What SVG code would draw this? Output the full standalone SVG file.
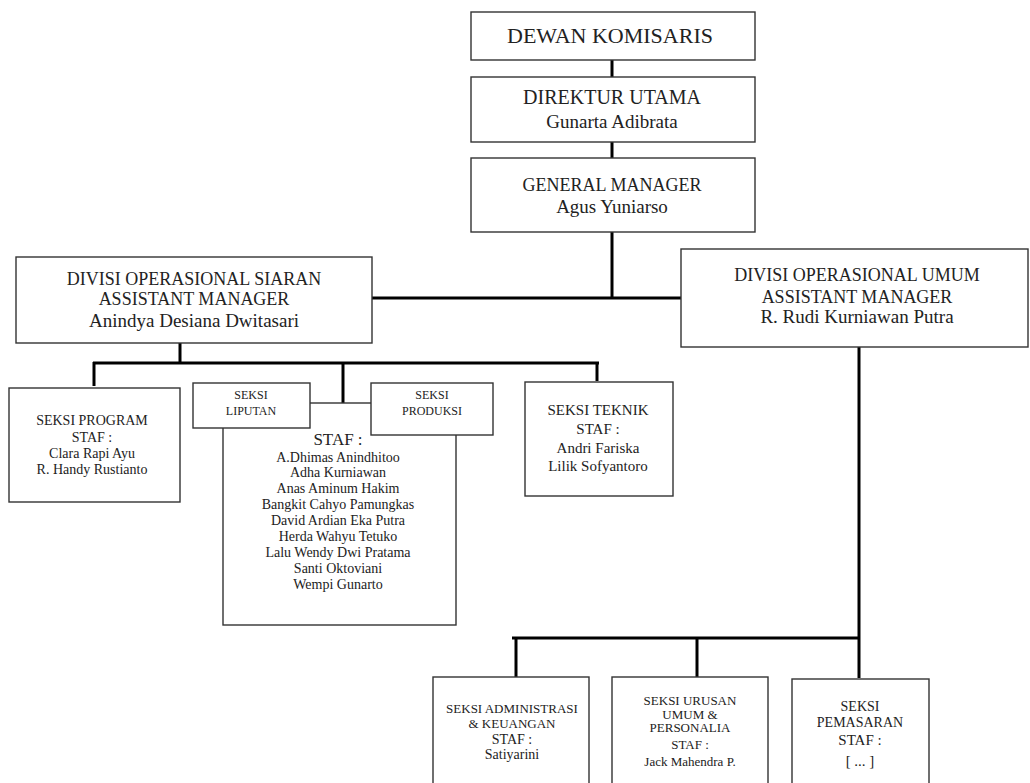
<svg xmlns="http://www.w3.org/2000/svg" width="1030" height="783" viewBox="0 0 1030 783">
<style>
.box{fill:#fff;stroke:#333;stroke-width:1.4}
.con{stroke:#000;stroke-width:3;fill:none}
text{font-family:"Liberation Serif","Times New Roman",serif;fill:#222;text-anchor:middle}
.t21{font-size:22px}
.t20{font-size:20px}
.t19{font-size:19px}
.t18{font-size:18px}
.t15{font-size:15px}
.t14{font-size:14px}
.t13{font-size:13px}
.t12{font-size:12px}
</style>
<rect width="1030" height="783" fill="#fff"/>
<g id="connectors">
<line class="con" x1="612" y1="60" x2="612" y2="77"/>
<line class="con" x1="612" y1="142" x2="612" y2="158"/>
<line class="con" x1="612" y1="232" x2="612" y2="298"/>
<line class="con" x1="372" y1="298" x2="681" y2="298"/>
<line class="con" x1="180" y1="343" x2="180" y2="363"/>
<line class="con" x1="93" y1="363" x2="599" y2="363"/>
<line class="con" x1="94" y1="362" x2="94" y2="386"/>
<line class="con" x1="343" y1="363" x2="343" y2="403"/>
<line class="con" x1="597" y1="362" x2="597" y2="381"/>
<line class="con" x1="859" y1="347" x2="859" y2="678"/>
<line class="con" x1="512" y1="638" x2="859" y2="638"/>
<line class="con" x1="516" y1="638" x2="516" y2="677"/>
<line class="con" x1="697" y1="638" x2="697" y2="677"/>
</g>
<g id="dewan-komisaris">
<rect class="box" x="471" y="12" width="284" height="48"/>
<text class="t21" x="610" y="43">DEWAN KOMISARIS</text>
</g>
<g id="direktur-utama">
<rect class="box" x="471" y="77" width="284" height="65"/>
<text class="t20" x="612" y="104">DIREKTUR UTAMA</text>
<text class="t19" x="612" y="128">Gunarta Adibrata</text>
</g>
<g id="general-manager">
<rect class="box" x="471" y="158" width="284" height="74"/>
<text class="t18" x="612" y="191">GENERAL MANAGER</text>
<text class="t19" x="612" y="213">Agus Yuniarso</text>
</g>
<g id="divisi-siaran">
<rect class="box" x="16" y="257" width="356" height="86"/>
<text class="t18" x="194" y="285">DIVISI OPERASIONAL SIARAN</text>
<text class="t18" x="194" y="305">ASSISTANT MANAGER</text>
<text class="t19" x="194" y="327">Anindya Desiana Dwitasari</text>
</g>
<g id="divisi-umum">
<rect class="box" x="681" y="249" width="347" height="98"/>
<text class="t18" x="857" y="281">DIVISI OPERASIONAL UMUM</text>
<text class="t18" x="857" y="303">ASSISTANT MANAGER</text>
<text class="t19" x="857" y="323">R. Rudi Kurniawan Putra</text>
</g>
<g id="seksi-program">
<rect class="box" x="9" y="388" width="171" height="114"/>
<text class="t14" x="92" y="425">SEKSI PROGRAM</text>
<text class="t14" x="92" y="442">STAF :</text>
<text class="t14" x="92" y="458">Clara Rapi Ayu</text>
<text class="t14" x="92" y="474">R. Handy Rustianto</text>
</g>
<g id="staf-liputan-produksi">
<rect class="box" x="223" y="403" width="233" height="222"/>
<text x="338" y="445" style="font-size:17px">STAF :</text>
<text class="t14" x="338" y="462">A.Dhimas Anindhitoo</text>
<text class="t14" x="338" y="477">Adha Kurniawan</text>
<text class="t14" x="338" y="493">Anas  Aminum Hakim</text>
<text class="t14" x="338" y="509">Bangkit Cahyo Pamungkas</text>
<text class="t14" x="338" y="525">David Ardian Eka Putra</text>
<text class="t14" x="338" y="541">Herda  Wahyu Tetuko</text>
<text class="t14" x="338" y="557">Lalu Wendy Dwi Pratama</text>
<text class="t14" x="338" y="573">Santi Oktoviani</text>
<text class="t14" x="338" y="589">Wempi Gunarto</text>
</g>
<g id="seksi-liputan">
<rect class="box" x="193" y="383" width="117" height="45"/>
<text class="t12" x="251" y="399">SEKSI</text>
<text class="t12" x="251" y="415">LIPUTAN</text>
</g>
<g id="seksi-produksi">
<rect class="box" x="371" y="383" width="122" height="52"/>
<text class="t12" x="432" y="399">SEKSI</text>
<text class="t12" x="432" y="415">PRODUKSI</text>
</g>
<g id="seksi-teknik">
<rect class="box" x="525" y="382" width="148" height="114"/>
<text class="t15" x="598" y="415">SEKSI TEKNIK</text>
<text class="t15" x="598" y="434">STAF :</text>
<text class="t15" x="598" y="453">Andri Fariska</text>
<text class="t15" x="598" y="471">Lilik Sofyantoro</text>
</g>
<g id="seksi-administrasi">
<rect class="box" x="433" y="677" width="156" height="130"/>
<text class="t13" x="512" y="713">SEKSI ADMINISTRASI</text>
<text class="t13" x="512" y="728">&amp; KEUANGAN</text>
<text class="t14" x="512" y="744">STAF :</text>
<text class="t14" x="512" y="759">Satiyarini</text>
</g>
<g id="seksi-urusan-umum">
<rect class="box" x="612" y="677" width="156" height="130"/>
<text class="t13" x="690" y="705">SEKSI URUSAN</text>
<text class="t13" x="690" y="719">UMUM &amp;</text>
<text class="t13" x="690" y="732">PERSONALIA</text>
<text class="t13" x="690" y="749">STAF :</text>
<text class="t13" x="690" y="766">Jack Mahendra P.</text>
</g>
<g id="seksi-pemasaran">
<rect class="box" x="792" y="679" width="137" height="130"/>
<text class="t14" x="860" y="711">SEKSI</text>
<text class="t14" x="860" y="727">PEMASARAN</text>
<text class="t15" x="860" y="745">STAF :</text>
<text class="t15" x="860" y="766">[ ... ]</text>
</g>
</svg>
